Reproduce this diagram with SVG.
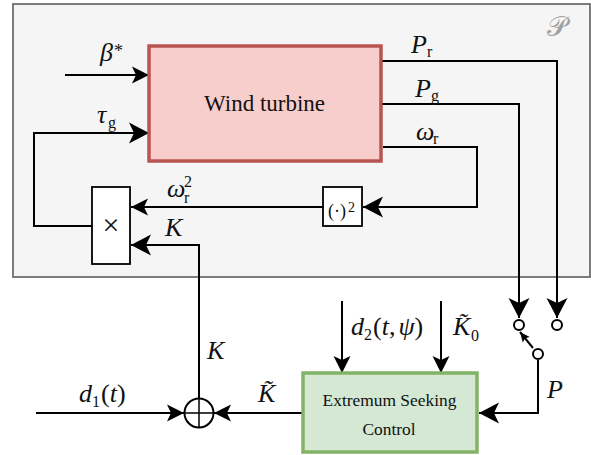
<svg xmlns="http://www.w3.org/2000/svg" width="591" height="455" viewBox="0 0 591 455">
<style>
text{font-family:"Liberation Serif","Times New Roman",serif;fill:#111}
.m{font-style:italic;font-size:26px}
.s{font-size:16px}
.c{fill:none;stroke:#000;stroke-width:2}
</style>
<defs>
<marker id="a" markerUnits="userSpaceOnUse" markerWidth="24" markerHeight="24" refX="20" refY="12" orient="auto"><path d="M0 1.500 L20 12 L0 22.500 L5 12Z" fill="#000"/></marker>
<marker id="c" markerUnits="userSpaceOnUse" markerWidth="20" markerHeight="20" refX="17" refY="10" orient="auto"><path d="M0 1.500 L17 10 L0 18.500 L4 10Z" fill="#000"/></marker>
<marker id="b" markerUnits="userSpaceOnUse" markerWidth="12" markerHeight="12" refX="10" refY="6" orient="auto"><path d="M0 1.500 L10 6 L0 10.500 L2 6Z" fill="#000"/></marker>
</defs>
<rect id="plant" x="13" y="4" width="577" height="273" fill="#f5f5f5" stroke="#666" stroke-width="1.700"/>
<g id="connectors">
<path class="c" d="M65 75H149" marker-end="url(#c)"/>
<path class="c" d="M92 226H34V133H149" marker-end="url(#a)"/>
<path class="c" d="M323 207H131" marker-end="url(#c)"/>
<path class="c" d="M383 147H477V207H363" marker-end="url(#a)"/>
<path class="c" d="M381 61H557V318" marker-end="url(#a)"/>
<path class="c" d="M381 104H519V318" marker-end="url(#a)"/>
<path class="c" d="M199 398V245H131" marker-end="url(#a)"/>
<path class="c" d="M36 413H184" marker-end="url(#c)"/>
<path class="c" d="M303 413H214" marker-end="url(#c)"/>
<path class="c" d="M342 301V373" marker-end="url(#c)"/>
<path class="c" d="M441 301V373" marker-end="url(#c)"/>
<path class="c" d="M538 360V413H479" marker-end="url(#a)"/>
<path class="c" d="M533 348L520 332" marker-end="url(#b)"/>
</g>
<g id="wind-turbine"><rect x="149" y="46" width="232" height="115" fill="#f8cecc" stroke="#b85450" stroke-width="3.500"/><text x="264.500" y="111" font-size="23" text-anchor="middle">Wind turbine</text></g>
<g id="multiplier"><rect x="92" y="187" width="38" height="77" fill="#fff" stroke="#000" stroke-width="1.800"/><text x="111" y="235" font-size="30" text-anchor="middle">×</text></g>
<g id="square"><rect x="323" y="187" width="39" height="39" fill="#fff" stroke="#000" stroke-width="1.800"/><text x="328" y="217" font-size="18">(·)</text><text x="348" y="212" font-size="14">2</text></g>
<g id="esc"><rect x="303" y="373" width="174" height="79" fill="#d5e8d4" stroke="#82b366" stroke-width="3.500"/><text x="389.500" y="406" font-size="17.400" text-anchor="middle">Extremum Seeking</text><text x="389" y="435" font-size="17.400" text-anchor="middle">Control</text></g>
<g id="sum"><circle cx="199" cy="413" r="14.500" fill="#fff" stroke="#000" stroke-width="2"/><path d="M184.500 413H213.500M199 398.500V427.500" stroke="#000" stroke-width="1.500"/></g>
<g id="switch" fill="#fff" stroke="#000" stroke-width="2"><circle cx="519" cy="325" r="5"/><circle cx="557" cy="325" r="5"/><circle cx="538" cy="354" r="5"/></g>
<g id="labels">
<text x="557" y="36" style="fill:#a0a0a0;font-size:28px" text-anchor="middle">𝒫</text>
<text class="m" x="100" y="61">β</text><text x="114" y="57" font-size="18">*</text>
<text class="m" x="97" y="123">τ</text><text class="s" x="108" y="128">g</text>
<text class="m" x="167" y="197">ω</text><text class="s" x="184" y="203">r</text><text x="184" y="187" font-size="16">2</text>
<text class="m" x="165" y="236">K</text>
<text class="m" x="411" y="53">P</text><text class="s" x="427" y="57">r</text>
<text class="m" x="415" y="97">P</text><text class="s" x="431" y="101">g</text>
<text class="m" x="416" y="140">ω</text><text class="s" x="433" y="144">r</text>
<text class="m" x="207" y="359">K</text>
<text class="m" x="79" y="402">d</text><text class="s" x="92" y="407">1</text><text class="m" x="101" y="402" style="font-style:normal">(<tspan font-style="italic">t</tspan>)</text>
<text class="m" x="258" y="402">K̃</text>
<text class="m" x="351" y="335">d</text><text class="s" x="364" y="340">2</text><text class="m" x="373" y="335" style="font-style:normal">(<tspan font-style="italic">t</tspan>,<tspan dx="3" font-style="italic">ψ</tspan>)</text>
<text class="m" x="453" y="335">K̃</text><text class="s" x="471" y="341">0</text>
<text class="m" x="547" y="398">P</text>
</g>
</svg>
